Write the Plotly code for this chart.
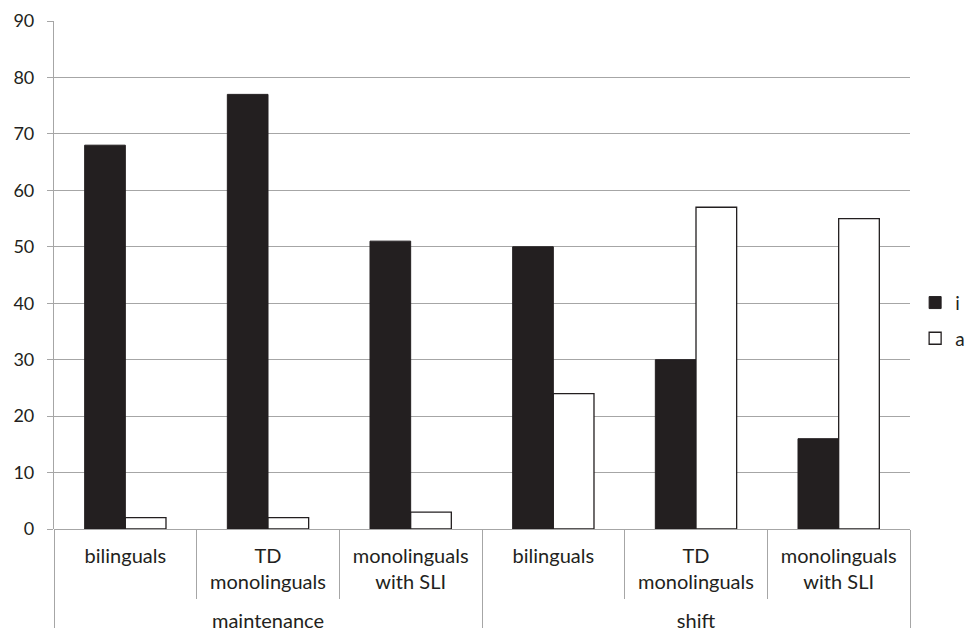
import plotly.graph_objects as go

groups = ["maintenance"] * 3 + ["shift"] * 3
subgroups = ["bilinguals<br> ", "TD<br>monolinguals<br> ", "monolinguals<br>with SLI<br> "] * 2
i_values = [68, 77, 51, 50, 30, 16]
a_values = [2, 2, 3, 24, 57, 55]
y_ticks = [0, 10, 20, 30, 40, 50, 60, 70, 80, 90]

font = dict(family="Lato, Open Sans, sans-serif", size=20, color="#231f20")

fig = go.Figure()
fig.add_trace(go.Bar(x=[groups, subgroups], y=i_values, name="i", legendgroup="g1",
                     marker=dict(color="#231f20", line=dict(color="#231f20", width=1))))
fig.add_trace(go.Bar(x=[groups, subgroups], y=a_values, name="a", legendgroup="g2",
                     marker=dict(color="white", line=dict(color="#231f20", width=1.3))))

fig.update_layout(
    width=958, height=620,
    margin=dict(l=46, r=56, t=13, b=99, autoexpand=False),
    paper_bgcolor="white", plot_bgcolor="white",
    font=font,
    barmode="group", bargap=0.43, bargroupgap=0,
    legend=dict(x=1.006, y=0.41, yanchor="middle", xanchor="left",
                font=dict(size=19), tracegroupgap=8, itemwidth=30),
    xaxis=dict(type="multicategory", showline=False, showgrid=False,
               tickson="boundaries", ticks="outside", ticklen=69,
               tickcolor="#a6a6a6", tickwidth=1.2, ticklabelstandoff=13,
               tickfont=dict(size=20),
               showdividers=True, dividercolor="#a6a6a6", dividerwidth=1.2),
    yaxis=dict(range=[0, 90], tickvals=y_ticks, showgrid=True, gridcolor="#a6a6a6",
               gridwidth=1.2, showline=True, linecolor="#a6a6a6", linewidth=1.2,
               ticks="outside", ticklen=6, tickcolor="#a6a6a6", zeroline=True,
               zerolinecolor="#a6a6a6", zerolinewidth=1.2,
               tickfont=dict(size=18), ticklabelstandoff=9),
)

fig.write_html("out.html")
